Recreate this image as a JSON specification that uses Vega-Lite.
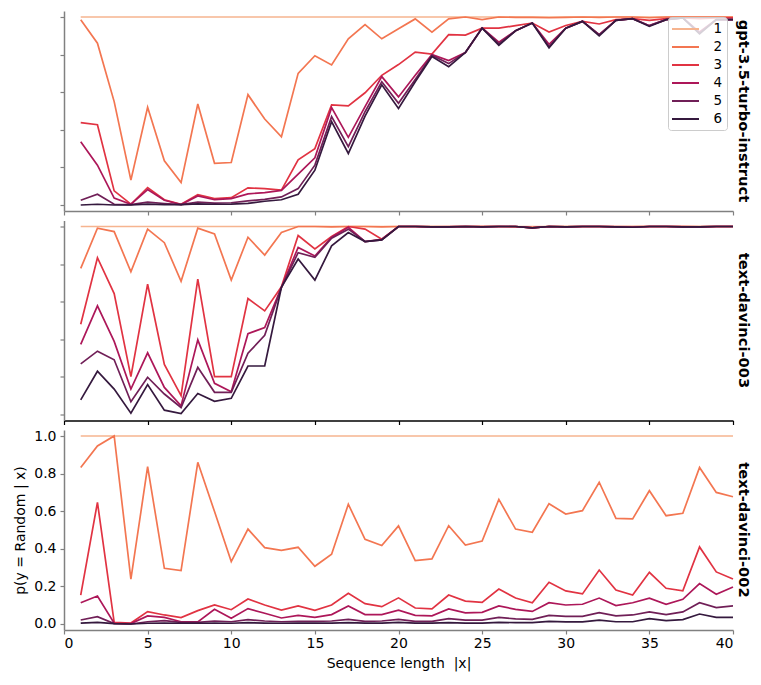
{
"$schema": "https://vega.github.io/schema/vega-lite/v6.json",
"padding": {"left": 13, "top": 11, "right": 5, "bottom": 5},
"config": {
  "font": "DejaVu Sans",
  "view": {"stroke": null},
  "axis": {"grid": false, "domainColor": "#808080", "domainWidth": 1.5, "tickColor": "#808080", "tickWidth": 1.2, "tickSize": 4, "labelFontSize": 14, "labelColor": "#000000", "titleFontSize": 14, "titleFontWeight": "normal", "titleColor": "#000000", "labelPadding": 4}
},
"datasets": {
"gpt": [
{"x":1,"s":"1","p":1},{"x":2,"s":"1","p":1},{"x":3,"s":"1","p":1},{"x":4,"s":"1","p":1},{"x":5,"s":"1","p":1},{"x":6,"s":"1","p":1},{"x":7,"s":"1","p":1},{"x":8,"s":"1","p":1},{"x":9,"s":"1","p":1},{"x":10,"s":"1","p":1},
{"x":11,"s":"1","p":1},{"x":12,"s":"1","p":1},{"x":13,"s":"1","p":1},{"x":14,"s":"1","p":1},{"x":15,"s":"1","p":1},{"x":16,"s":"1","p":1},{"x":17,"s":"1","p":1},{"x":18,"s":"1","p":1},{"x":19,"s":"1","p":1},{"x":20,"s":"1","p":1},
{"x":21,"s":"1","p":1},{"x":22,"s":"1","p":1},{"x":23,"s":"1","p":1},{"x":24,"s":"1","p":1},{"x":25,"s":"1","p":1},{"x":26,"s":"1","p":1},{"x":27,"s":"1","p":1},{"x":28,"s":"1","p":1},{"x":29,"s":"1","p":1},{"x":30,"s":"1","p":1},
{"x":31,"s":"1","p":1},{"x":32,"s":"1","p":1},{"x":33,"s":"1","p":1},{"x":34,"s":"1","p":1},{"x":35,"s":"1","p":1},{"x":36,"s":"1","p":1},{"x":37,"s":"1","p":1},{"x":38,"s":"1","p":1},{"x":39,"s":"1","p":1},{"x":40,"s":"1","p":1},
{"x":1,"s":"2","p":0.986},{"x":2,"s":"2","p":0.861},{"x":3,"s":"2","p":0.55},{"x":4,"s":"2","p":0.132},{"x":5,"s":"2","p":0.52},{"x":6,"s":"2","p":0.235},{"x":7,"s":"2","p":0.119},{"x":8,"s":"2","p":0.537},{"x":9,"s":"2","p":0.222},{"x":10,"s":"2","p":0.226},
{"x":11,"s":"2","p":0.587},{"x":12,"s":"2","p":0.457},{"x":13,"s":"2","p":0.363},{"x":14,"s":"2","p":0.70},{"x":15,"s":"2","p":0.794},{"x":16,"s":"2","p":0.745},{"x":17,"s":"2","p":0.884},{"x":18,"s":"2","p":0.959},{"x":19,"s":"2","p":0.884},{"x":20,"s":"2","p":0.938},
{"x":21,"s":"2","p":0.99},{"x":22,"s":"2","p":0.92},{"x":23,"s":"2","p":0.99},{"x":24,"s":"2","p":1.0},{"x":25,"s":"2","p":0.986},{"x":26,"s":"2","p":1.0},{"x":27,"s":"2","p":0.998},{"x":28,"s":"2","p":0.998},{"x":29,"s":"2","p":0.996},{"x":30,"s":"2","p":0.998},
{"x":31,"s":"2","p":1.0},{"x":32,"s":"2","p":0.998},{"x":33,"s":"2","p":1.0},{"x":34,"s":"2","p":1.0},{"x":35,"s":"2","p":0.996},{"x":36,"s":"2","p":1.0},{"x":37,"s":"2","p":1.0},{"x":38,"s":"2","p":1.0},{"x":39,"s":"2","p":1.0},{"x":40,"s":"2","p":1.0},
{"x":1,"s":"3","p":0.438},{"x":2,"s":"3","p":0.427},{"x":3,"s":"3","p":0.075},{"x":4,"s":"3","p":0.004},{"x":5,"s":"3","p":0.093},{"x":6,"s":"3","p":0.028},{"x":7,"s":"3","p":0.004},{"x":8,"s":"3","p":0.055},{"x":9,"s":"3","p":0.034},{"x":10,"s":"3","p":0.039},
{"x":11,"s":"3","p":0.091},{"x":12,"s":"3","p":0.087},{"x":13,"s":"3","p":0.079},{"x":14,"s":"3","p":0.24},{"x":15,"s":"3","p":0.30},{"x":16,"s":"3","p":0.533},{"x":17,"s":"3","p":0.527},{"x":18,"s":"3","p":0.597},{"x":19,"s":"3","p":0.69},{"x":20,"s":"3","p":0.747},
{"x":21,"s":"3","p":0.813},{"x":22,"s":"3","p":0.803},{"x":23,"s":"3","p":0.906},{"x":24,"s":"3","p":0.904},{"x":25,"s":"3","p":0.941},{"x":26,"s":"3","p":0.941},{"x":27,"s":"3","p":0.954},{"x":28,"s":"3","p":0.968},{"x":29,"s":"3","p":0.92},{"x":30,"s":"3","p":0.955},
{"x":31,"s":"3","p":0.977},{"x":32,"s":"3","p":0.963},{"x":33,"s":"3","p":0.986},{"x":34,"s":"3","p":0.991},{"x":35,"s":"3","p":0.982},{"x":36,"s":"3","p":0.991},{"x":37,"s":"3","p":0.995},{"x":38,"s":"3","p":0.991},{"x":39,"s":"3","p":0.995},{"x":40,"s":"3","p":0.995},
{"x":1,"s":"4","p":0.336},{"x":2,"s":"4","p":0.212},{"x":3,"s":"4","p":0.037},{"x":4,"s":"4","p":0.004},{"x":5,"s":"4","p":0.082},{"x":6,"s":"4","p":0.025},{"x":7,"s":"4","p":0.002},{"x":8,"s":"4","p":0.048},{"x":9,"s":"4","p":0.028},{"x":10,"s":"4","p":0.034},
{"x":11,"s":"4","p":0.059},{"x":12,"s":"4","p":0.066},{"x":13,"s":"4","p":0.078},{"x":14,"s":"4","p":0.164},{"x":15,"s":"4","p":0.251},{"x":16,"s":"4","p":0.518},{"x":17,"s":"4","p":0.36},{"x":18,"s":"4","p":0.523},{"x":19,"s":"4","p":0.683},{"x":20,"s":"4","p":0.575},
{"x":21,"s":"4","p":0.69},{"x":22,"s":"4","p":0.80},{"x":23,"s":"4","p":0.768},{"x":24,"s":"4","p":0.811},{"x":25,"s":"4","p":0.941},{"x":26,"s":"4","p":0.866},{"x":27,"s":"4","p":0.927},{"x":28,"s":"4","p":0.968},{"x":29,"s":"4","p":0.855},{"x":30,"s":"4","p":0.941},
{"x":31,"s":"4","p":0.977},{"x":32,"s":"4","p":0.906},{"x":33,"s":"4","p":0.982},{"x":34,"s":"4","p":0.991},{"x":35,"s":"4","p":0.954},{"x":36,"s":"4","p":0.986},{"x":37,"s":"4","p":0.995},{"x":38,"s":"4","p":0.92},{"x":39,"s":"4","p":0.986},{"x":40,"s":"4","p":0.986},
{"x":1,"s":"5","p":0.025},{"x":2,"s":"5","p":0.057},{"x":3,"s":"5","p":0.004},{"x":4,"s":"5","p":0.002},{"x":5,"s":"5","p":0.015},{"x":6,"s":"5","p":0.008},{"x":7,"s":"5","p":0.002},{"x":8,"s":"5","p":0.015},{"x":9,"s":"5","p":0.01},{"x":10,"s":"5","p":0.012},
{"x":11,"s":"5","p":0.022},{"x":12,"s":"5","p":0.03},{"x":13,"s":"5","p":0.043},{"x":14,"s":"5","p":0.087},{"x":15,"s":"5","p":0.212},{"x":16,"s":"5","p":0.47},{"x":17,"s":"5","p":0.31},{"x":18,"s":"5","p":0.496},{"x":19,"s":"5","p":0.656},{"x":20,"s":"5","p":0.541},
{"x":21,"s":"5","p":0.668},{"x":22,"s":"5","p":0.796},{"x":23,"s":"5","p":0.752},{"x":24,"s":"5","p":0.811},{"x":25,"s":"5","p":0.941},{"x":26,"s":"5","p":0.858},{"x":27,"s":"5","p":0.927},{"x":28,"s":"5","p":0.968},{"x":29,"s":"5","p":0.843},{"x":30,"s":"5","p":0.941},
{"x":31,"s":"5","p":0.977},{"x":32,"s":"5","p":0.906},{"x":33,"s":"5","p":0.982},{"x":34,"s":"5","p":0.991},{"x":35,"s":"5","p":0.954},{"x":36,"s":"5","p":0.986},{"x":37,"s":"5","p":0.995},{"x":38,"s":"5","p":0.915},{"x":39,"s":"5","p":0.986},{"x":40,"s":"5","p":0.986},
{"x":1,"s":"6","p":0.0},{"x":2,"s":"6","p":0.004},{"x":3,"s":"6","p":0.0},{"x":4,"s":"6","p":0.0},{"x":5,"s":"6","p":0.005},{"x":6,"s":"6","p":0.002},{"x":7,"s":"6","p":0.002},{"x":8,"s":"6","p":0.006},{"x":9,"s":"6","p":0.004},{"x":10,"s":"6","p":0.005},
{"x":11,"s":"6","p":0.009},{"x":12,"s":"6","p":0.02},{"x":13,"s":"6","p":0.028},{"x":14,"s":"6","p":0.057},{"x":15,"s":"6","p":0.185},{"x":16,"s":"6","p":0.443},{"x":17,"s":"6","p":0.274},{"x":18,"s":"6","p":0.473},{"x":19,"s":"6","p":0.639},{"x":20,"s":"6","p":0.514},
{"x":21,"s":"6","p":0.656},{"x":22,"s":"6","p":0.79},{"x":23,"s":"6","p":0.736},{"x":24,"s":"6","p":0.811},{"x":25,"s":"6","p":0.941},{"x":26,"s":"6","p":0.85},{"x":27,"s":"6","p":0.927},{"x":28,"s":"6","p":0.968},{"x":29,"s":"6","p":0.836},{"x":30,"s":"6","p":0.941},
{"x":31,"s":"6","p":0.977},{"x":32,"s":"6","p":0.9},{"x":33,"s":"6","p":0.982},{"x":34,"s":"6","p":0.991},{"x":35,"s":"6","p":0.95},{"x":36,"s":"6","p":0.986},{"x":37,"s":"6","p":0.995},{"x":38,"s":"6","p":0.91},{"x":39,"s":"6","p":0.986},{"x":40,"s":"6","p":0.986}
],
"d003": [
{"x":1,"s":"1","p":1},{"x":2,"s":"1","p":1},{"x":3,"s":"1","p":1},{"x":4,"s":"1","p":1},{"x":5,"s":"1","p":1},{"x":6,"s":"1","p":1},{"x":7,"s":"1","p":1},{"x":8,"s":"1","p":1},{"x":9,"s":"1","p":1},{"x":10,"s":"1","p":1},
{"x":11,"s":"1","p":1},{"x":12,"s":"1","p":1},{"x":13,"s":"1","p":1},{"x":14,"s":"1","p":1},{"x":15,"s":"1","p":1},{"x":16,"s":"1","p":1},{"x":17,"s":"1","p":1},{"x":18,"s":"1","p":1},{"x":19,"s":"1","p":1},{"x":20,"s":"1","p":1},
{"x":21,"s":"1","p":1},{"x":22,"s":"1","p":1},{"x":23,"s":"1","p":1},{"x":24,"s":"1","p":1},{"x":25,"s":"1","p":1},{"x":26,"s":"1","p":1},{"x":27,"s":"1","p":1},{"x":28,"s":"1","p":1},{"x":29,"s":"1","p":1},{"x":30,"s":"1","p":1},
{"x":31,"s":"1","p":1},{"x":32,"s":"1","p":1},{"x":33,"s":"1","p":1},{"x":34,"s":"1","p":1},{"x":35,"s":"1","p":1},{"x":36,"s":"1","p":1},{"x":37,"s":"1","p":1},{"x":38,"s":"1","p":1},{"x":39,"s":"1","p":1},{"x":40,"s":"1","p":1},
{"x":1,"s":"2","p":0.777},{"x":2,"s":"2","p":0.991},{"x":3,"s":"2","p":0.973},{"x":4,"s":"2","p":0.759},{"x":5,"s":"2","p":0.986},{"x":6,"s":"2","p":0.914},{"x":7,"s":"2","p":0.709},{"x":8,"s":"2","p":0.991},{"x":9,"s":"2","p":0.961},{"x":10,"s":"2","p":0.715},
{"x":11,"s":"2","p":0.943},{"x":12,"s":"2","p":0.848},{"x":13,"s":"2","p":0.968},{"x":14,"s":"2","p":1.0},{"x":15,"s":"2","p":1.0},{"x":16,"s":"2","p":0.998},{"x":17,"s":"2","p":1.0},{"x":18,"s":"2","p":1.0},{"x":19,"s":"2","p":0.998},{"x":20,"s":"2","p":1.0},
{"x":21,"s":"2","p":1.0},{"x":22,"s":"2","p":1.0},{"x":23,"s":"2","p":0.998},{"x":24,"s":"2","p":1.0},{"x":25,"s":"2","p":1.0},{"x":26,"s":"2","p":1.0},{"x":27,"s":"2","p":0.998},{"x":28,"s":"2","p":0.995},{"x":29,"s":"2","p":1.0},{"x":30,"s":"2","p":1.0},
{"x":31,"s":"2","p":1.0},{"x":32,"s":"2","p":1.0},{"x":33,"s":"2","p":0.998},{"x":34,"s":"2","p":1.0},{"x":35,"s":"2","p":1.0},{"x":36,"s":"2","p":1.0},{"x":37,"s":"2","p":1.0},{"x":38,"s":"2","p":1.0},{"x":39,"s":"2","p":1.0},{"x":40,"s":"2","p":1.0},
{"x":1,"s":"3","p":0.48},{"x":2,"s":"3","p":0.834},{"x":3,"s":"3","p":0.643},{"x":4,"s":"3","p":0.201},{"x":5,"s":"3","p":0.693},{"x":6,"s":"3","p":0.266},{"x":7,"s":"3","p":0.10},{"x":8,"s":"3","p":0.72},{"x":9,"s":"3","p":0.201},{"x":10,"s":"3","p":0.201},
{"x":11,"s":"3","p":0.617},{"x":12,"s":"3","p":0.551},{"x":13,"s":"3","p":0.679},{"x":14,"s":"3","p":0.952},{"x":15,"s":"3","p":0.881},{"x":16,"s":"3","p":0.947},{"x":17,"s":"3","p":1.0},{"x":18,"s":"3","p":0.986},{"x":19,"s":"3","p":0.932},{"x":20,"s":"3","p":1.0},
{"x":21,"s":"3","p":1.0},{"x":22,"s":"3","p":0.998},{"x":23,"s":"3","p":1.0},{"x":24,"s":"3","p":1.0},{"x":25,"s":"3","p":1.0},{"x":26,"s":"3","p":1.0},{"x":27,"s":"3","p":1.0},{"x":28,"s":"3","p":0.993},{"x":29,"s":"3","p":1.0},{"x":30,"s":"3","p":0.998},
{"x":31,"s":"3","p":1.0},{"x":32,"s":"3","p":1.0},{"x":33,"s":"3","p":1.0},{"x":34,"s":"3","p":0.998},{"x":35,"s":"3","p":1.0},{"x":36,"s":"3","p":1.0},{"x":37,"s":"3","p":1.0},{"x":38,"s":"3","p":0.998},{"x":39,"s":"3","p":1.0},{"x":40,"s":"3","p":1.0},
{"x":1,"s":"4","p":0.373},{"x":2,"s":"4","p":0.578},{"x":3,"s":"4","p":0.389},{"x":4,"s":"4","p":0.135},{"x":5,"s":"4","p":0.328},{"x":6,"s":"4","p":0.144},{"x":7,"s":"4","p":0.046},{"x":8,"s":"4","p":0.397},{"x":9,"s":"4","p":0.166},{"x":10,"s":"4","p":0.121},
{"x":11,"s":"4","p":0.43},{"x":12,"s":"4","p":0.462},{"x":13,"s":"4","p":0.676},{"x":14,"s":"4","p":0.889},{"x":15,"s":"4","p":0.843},{"x":16,"s":"4","p":0.943},{"x":17,"s":"4","p":0.996},{"x":18,"s":"4","p":0.92},{"x":19,"s":"4","p":0.932},{"x":20,"s":"4","p":1.0},
{"x":21,"s":"4","p":1.0},{"x":22,"s":"4","p":0.998},{"x":23,"s":"4","p":0.998},{"x":24,"s":"4","p":1.0},{"x":25,"s":"4","p":0.998},{"x":26,"s":"4","p":1.0},{"x":27,"s":"4","p":1.0},{"x":28,"s":"4","p":0.993},{"x":29,"s":"4","p":1.0},{"x":30,"s":"4","p":0.998},
{"x":31,"s":"4","p":1.0},{"x":32,"s":"4","p":1.0},{"x":33,"s":"4","p":0.998},{"x":34,"s":"4","p":0.996},{"x":35,"s":"4","p":1.0},{"x":36,"s":"4","p":1.0},{"x":37,"s":"4","p":0.998},{"x":38,"s":"4","p":0.998},{"x":39,"s":"4","p":1.0},{"x":40,"s":"4","p":1.0},
{"x":1,"s":"5","p":0.269},{"x":2,"s":"5","p":0.337},{"x":3,"s":"5","p":0.291},{"x":4,"s":"5","p":0.068},{"x":5,"s":"5","p":0.198},{"x":6,"s":"5","p":0.109},{"x":7,"s":"5","p":0.037},{"x":8,"s":"5","p":0.251},{"x":9,"s":"5","p":0.118},{"x":10,"s":"5","p":0.118},
{"x":11,"s":"5","p":0.326},{"x":12,"s":"5","p":0.421},{"x":13,"s":"5","p":0.676},{"x":14,"s":"5","p":0.861},{"x":15,"s":"5","p":0.836},{"x":16,"s":"5","p":0.938},{"x":17,"s":"5","p":0.986},{"x":18,"s":"5","p":0.92},{"x":19,"s":"5","p":0.929},{"x":20,"s":"5","p":1.0},
{"x":21,"s":"5","p":1.0},{"x":22,"s":"5","p":0.998},{"x":23,"s":"5","p":0.998},{"x":24,"s":"5","p":1.0},{"x":25,"s":"5","p":0.998},{"x":26,"s":"5","p":1.0},{"x":27,"s":"5","p":1.0},{"x":28,"s":"5","p":0.993},{"x":29,"s":"5","p":1.0},{"x":30,"s":"5","p":0.998},
{"x":31,"s":"5","p":1.0},{"x":32,"s":"5","p":1.0},{"x":33,"s":"5","p":0.998},{"x":34,"s":"5","p":0.996},{"x":35,"s":"5","p":1.0},{"x":36,"s":"5","p":1.0},{"x":37,"s":"5","p":0.998},{"x":38,"s":"5","p":0.998},{"x":39,"s":"5","p":1.0},{"x":40,"s":"5","p":1.0},
{"x":1,"s":"6","p":0.078},{"x":2,"s":"6","p":0.23},{"x":3,"s":"6","p":0.135},{"x":4,"s":"6","p":0.007},{"x":5,"s":"6","p":0.159},{"x":6,"s":"6","p":0.023},{"x":7,"s":"6","p":0.005},{"x":8,"s":"6","p":0.112},{"x":9,"s":"6","p":0.07},{"x":10,"s":"6","p":0.086},
{"x":11,"s":"6","p":0.258},{"x":12,"s":"6","p":0.258},{"x":13,"s":"6","p":0.676},{"x":14,"s":"6","p":0.827},{"x":15,"s":"6","p":0.715},{"x":16,"s":"6","p":0.897},{"x":17,"s":"6","p":0.968},{"x":18,"s":"6","p":0.92},{"x":19,"s":"6","p":0.929},{"x":20,"s":"6","p":1.0},
{"x":21,"s":"6","p":1.0},{"x":22,"s":"6","p":0.998},{"x":23,"s":"6","p":0.998},{"x":24,"s":"6","p":1.0},{"x":25,"s":"6","p":0.998},{"x":26,"s":"6","p":1.0},{"x":27,"s":"6","p":1.0},{"x":28,"s":"6","p":0.993},{"x":29,"s":"6","p":1.0},{"x":30,"s":"6","p":0.998},
{"x":31,"s":"6","p":1.0},{"x":32,"s":"6","p":1.0},{"x":33,"s":"6","p":0.998},{"x":34,"s":"6","p":0.996},{"x":35,"s":"6","p":1.0},{"x":36,"s":"6","p":1.0},{"x":37,"s":"6","p":0.998},{"x":38,"s":"6","p":0.998},{"x":39,"s":"6","p":1.0},{"x":40,"s":"6","p":1.0}
],
"d002": [
{"x":1,"s":"1","p":1},{"x":2,"s":"1","p":1},{"x":3,"s":"1","p":1},{"x":4,"s":"1","p":1},{"x":5,"s":"1","p":1},{"x":6,"s":"1","p":1},{"x":7,"s":"1","p":1},{"x":8,"s":"1","p":1},{"x":9,"s":"1","p":1},{"x":10,"s":"1","p":1},
{"x":11,"s":"1","p":1},{"x":12,"s":"1","p":1},{"x":13,"s":"1","p":1},{"x":14,"s":"1","p":1},{"x":15,"s":"1","p":1},{"x":16,"s":"1","p":1},{"x":17,"s":"1","p":1},{"x":18,"s":"1","p":1},{"x":19,"s":"1","p":1},{"x":20,"s":"1","p":1},
{"x":21,"s":"1","p":1},{"x":22,"s":"1","p":1},{"x":23,"s":"1","p":1},{"x":24,"s":"1","p":1},{"x":25,"s":"1","p":1},{"x":26,"s":"1","p":1},{"x":27,"s":"1","p":1},{"x":28,"s":"1","p":1},{"x":29,"s":"1","p":1},{"x":30,"s":"1","p":1},
{"x":31,"s":"1","p":1},{"x":32,"s":"1","p":1},{"x":33,"s":"1","p":1},{"x":34,"s":"1","p":1},{"x":35,"s":"1","p":1},{"x":36,"s":"1","p":1},{"x":37,"s":"1","p":1},{"x":38,"s":"1","p":1},{"x":39,"s":"1","p":1},{"x":40,"s":"1","p":1},
{"x":1,"s":"2","p":0.832},{"x":2,"s":"2","p":0.947},{"x":3,"s":"2","p":1.0},{"x":4,"s":"2","p":0.238},{"x":5,"s":"2","p":0.837},{"x":6,"s":"2","p":0.296},{"x":7,"s":"2","p":0.284},{"x":8,"s":"2","p":0.86},{"x":9,"s":"2","p":0.598},{"x":10,"s":"2","p":0.332},
{"x":11,"s":"2","p":0.505},{"x":12,"s":"2","p":0.406},{"x":13,"s":"2","p":0.392},{"x":14,"s":"2","p":0.408},{"x":15,"s":"2","p":0.307},{"x":16,"s":"2","p":0.371},{"x":17,"s":"2","p":0.637},{"x":18,"s":"2","p":0.45},{"x":19,"s":"2","p":0.417},{"x":20,"s":"2","p":0.522},
{"x":21,"s":"2","p":0.337},{"x":22,"s":"2","p":0.346},{"x":23,"s":"2","p":0.523},{"x":24,"s":"2","p":0.42},{"x":25,"s":"2","p":0.441},{"x":26,"s":"2","p":0.663},{"x":27,"s":"2","p":0.505},{"x":28,"s":"2","p":0.488},{"x":29,"s":"2","p":0.64},{"x":30,"s":"2","p":0.585},
{"x":31,"s":"2","p":0.603},{"x":32,"s":"2","p":0.754},{"x":33,"s":"2","p":0.562},{"x":34,"s":"2","p":0.559},{"x":35,"s":"2","p":0.709},{"x":36,"s":"2","p":0.576},{"x":37,"s":"2","p":0.589},{"x":38,"s":"2","p":0.833},{"x":39,"s":"2","p":0.70},{"x":40,"s":"2","p":0.677},
{"x":1,"s":"3","p":0.154},{"x":2,"s":"3","p":0.647},{"x":3,"s":"3","p":0.009},{"x":4,"s":"3","p":0.005},{"x":5,"s":"3","p":0.066},{"x":6,"s":"3","p":0.048},{"x":7,"s":"3","p":0.034},{"x":8,"s":"3","p":0.071},{"x":9,"s":"3","p":0.101},{"x":10,"s":"3","p":0.076},
{"x":11,"s":"3","p":0.133},{"x":12,"s":"3","p":0.101},{"x":13,"s":"3","p":0.074},{"x":14,"s":"3","p":0.096},{"x":15,"s":"3","p":0.073},{"x":16,"s":"3","p":0.101},{"x":17,"s":"3","p":0.163},{"x":18,"s":"3","p":0.108},{"x":19,"s":"3","p":0.092},{"x":20,"s":"3","p":0.139},
{"x":21,"s":"3","p":0.085},{"x":22,"s":"3","p":0.08},{"x":23,"s":"3","p":0.154},{"x":24,"s":"3","p":0.122},{"x":25,"s":"3","p":0.115},{"x":26,"s":"3","p":0.186},{"x":27,"s":"3","p":0.138},{"x":28,"s":"3","p":0.113},{"x":29,"s":"3","p":0.222},{"x":30,"s":"3","p":0.176},
{"x":31,"s":"3","p":0.16},{"x":32,"s":"3","p":0.287},{"x":33,"s":"3","p":0.181},{"x":34,"s":"3","p":0.154},{"x":35,"s":"3","p":0.275},{"x":36,"s":"3","p":0.19},{"x":37,"s":"3","p":0.176},{"x":38,"s":"3","p":0.41},{"x":39,"s":"3","p":0.277},{"x":40,"s":"3","p":0.239},
{"x":1,"s":"4","p":0.113},{"x":2,"s":"4","p":0.149},{"x":3,"s":"4","p":0.004},{"x":4,"s":"4","p":0.002},{"x":5,"s":"4","p":0.043},{"x":6,"s":"4","p":0.035},{"x":7,"s":"4","p":0.012},{"x":8,"s":"4","p":0.011},{"x":9,"s":"4","p":0.078},{"x":10,"s":"4","p":0.03},
{"x":11,"s":"4","p":0.082},{"x":12,"s":"4","p":0.057},{"x":13,"s":"4","p":0.032},{"x":14,"s":"4","p":0.046},{"x":15,"s":"4","p":0.035},{"x":16,"s":"4","p":0.05},{"x":17,"s":"4","p":0.096},{"x":18,"s":"4","p":0.05},{"x":19,"s":"4","p":0.05},{"x":20,"s":"4","p":0.074},
{"x":21,"s":"4","p":0.046},{"x":22,"s":"4","p":0.043},{"x":23,"s":"4","p":0.08},{"x":24,"s":"4","p":0.059},{"x":25,"s":"4","p":0.062},{"x":26,"s":"4","p":0.096},{"x":27,"s":"4","p":0.078},{"x":28,"s":"4","p":0.067},{"x":29,"s":"4","p":0.113},{"x":30,"s":"4","p":0.101},
{"x":31,"s":"4","p":0.105},{"x":32,"s":"4","p":0.138},{"x":33,"s":"4","p":0.098},{"x":34,"s":"4","p":0.113},{"x":35,"s":"4","p":0.137},{"x":36,"s":"4","p":0.105},{"x":37,"s":"4","p":0.131},{"x":38,"s":"4","p":0.215},{"x":39,"s":"4","p":0.158},{"x":40,"s":"4","p":0.197},
{"x":1,"s":"5","p":0.021},{"x":2,"s":"5","p":0.039},{"x":3,"s":"5","p":0.002},{"x":4,"s":"5","p":0.0},{"x":5,"s":"5","p":0.012},{"x":6,"s":"5","p":0.018},{"x":7,"s":"5","p":0.009},{"x":8,"s":"5","p":0.009},{"x":9,"s":"5","p":0.016},{"x":10,"s":"5","p":0.012},
{"x":11,"s":"5","p":0.023},{"x":12,"s":"5","p":0.016},{"x":13,"s":"5","p":0.012},{"x":14,"s":"5","p":0.014},{"x":15,"s":"5","p":0.014},{"x":16,"s":"5","p":0.016},{"x":17,"s":"5","p":0.025},{"x":18,"s":"5","p":0.014},{"x":19,"s":"5","p":0.016},{"x":20,"s":"5","p":0.025},
{"x":21,"s":"5","p":0.014},{"x":22,"s":"5","p":0.014},{"x":23,"s":"5","p":0.028},{"x":24,"s":"5","p":0.021},{"x":25,"s":"5","p":0.021},{"x":26,"s":"5","p":0.035},{"x":27,"s":"5","p":0.027},{"x":28,"s":"5","p":0.025},{"x":29,"s":"5","p":0.046},{"x":30,"s":"5","p":0.041},
{"x":31,"s":"5","p":0.041},{"x":32,"s":"5","p":0.06},{"x":33,"s":"5","p":0.043},{"x":34,"s":"5","p":0.048},{"x":35,"s":"5","p":0.064},{"x":36,"s":"5","p":0.05},{"x":37,"s":"5","p":0.064},{"x":38,"s":"5","p":0.113},{"x":39,"s":"5","p":0.087},{"x":40,"s":"5","p":0.096},
{"x":1,"s":"6","p":0.005},{"x":2,"s":"6","p":0.009},{"x":3,"s":"6","p":0.002},{"x":4,"s":"6","p":0.0},{"x":5,"s":"6","p":0.004},{"x":6,"s":"6","p":0.005},{"x":7,"s":"6","p":0.004},{"x":8,"s":"6","p":0.004},{"x":9,"s":"6","p":0.005},{"x":10,"s":"6","p":0.004},
{"x":11,"s":"6","p":0.007},{"x":12,"s":"6","p":0.005},{"x":13,"s":"6","p":0.004},{"x":14,"s":"6","p":0.005},{"x":15,"s":"6","p":0.005},{"x":16,"s":"6","p":0.005},{"x":17,"s":"6","p":0.007},{"x":18,"s":"6","p":0.005},{"x":19,"s":"6","p":0.005},{"x":20,"s":"6","p":0.009},
{"x":21,"s":"6","p":0.005},{"x":22,"s":"6","p":0.005},{"x":23,"s":"6","p":0.007},{"x":24,"s":"6","p":0.005},{"x":25,"s":"6","p":0.005},{"x":26,"s":"6","p":0.009},{"x":27,"s":"6","p":0.007},{"x":28,"s":"6","p":0.007},{"x":29,"s":"6","p":0.014},{"x":30,"s":"6","p":0.011},
{"x":31,"s":"6","p":0.011},{"x":32,"s":"6","p":0.021},{"x":33,"s":"6","p":0.012},{"x":34,"s":"6","p":0.012},{"x":35,"s":"6","p":0.028},{"x":36,"s":"6","p":0.018},{"x":37,"s":"6","p":0.023},{"x":38,"s":"6","p":0.053},{"x":39,"s":"6","p":0.035},{"x":40,"s":"6","p":0.035}
]
},
"spacing": 9.5,
"bounds": "flush",
"resolve": {"scale": {"color": "independent"}, "legend": {"color": "independent"}},
"vconcat": [
{
  "data": {"name": "gpt"},
  "width": 669, "height": 200,
  "title": {"text": "gpt-3.5-turbo-instruct", "orient": "right", "anchor": "middle", "frame": "group", "fontSize": 14.7, "fontWeight": "bold", "offset": 0, "color": "#000000"},
  "mark": {"type": "line", "strokeWidth": 1.7},
  "encoding": {
    "x": {"field": "x", "type": "quantitative", "scale": {"domain": [0, 40], "nice": false}, "axis": {"values": [0,5,10,15,20,25,30,35,40], "labels": false, "title": null}},
    "y": {"field": "p", "type": "quantitative", "scale": {"domain": [-0.032, 1.032], "nice": false, "zero": false}, "axis": {"values": [0,0.2,0.4,0.6,0.8,1], "labels": false, "title": null}},
    "color": {"field": "s", "type": "nominal", "scale": {"domain": ["1","2","3","4","5","6"], "range": ["#f6b48f","#f37651","#e13342","#ad1759","#701f57","#35193e"]},
      "legend": {"title": null, "orient": "top-right", "offset": 6, "symbolType": "M-2,0H2", "symbolStrokeWidth": 2, "symbolSize": 182, "symbolOffset": 5.5, "labelFontSize": 13.5, "labelOffset": 20, "padding": 4, "fillColor": "rgba(255,255,255,0.8)", "strokeColor": "#cccccc", "cornerRadius": 3, "rowPadding": 3, "labelColor": "#000000"}}
  }
},
{
  "data": {"name": "d003"},
  "width": 669, "height": 200,
  "title": {"text": "text-davinci-003", "orient": "right", "anchor": "middle", "frame": "group", "fontSize": 14.7, "fontWeight": "bold", "offset": 0, "color": "#000000"},
  "mark": {"type": "line", "strokeWidth": 1.7},
  "encoding": {
    "x": {"field": "x", "type": "quantitative", "scale": {"domain": [0, 40], "nice": false}, "axis": {"values": [0,5,10,15,20,25,30,35,40], "labels": false, "title": null, "domainColor": "#000000", "tickColor": "#000000"}},
    "y": {"field": "p", "type": "quantitative", "scale": {"domain": [-0.032, 1.032], "nice": false, "zero": false}, "axis": {"values": [0,0.2,0.4,0.6,0.8,1], "labels": false, "title": null}},
    "color": {"field": "s", "type": "nominal", "scale": {"domain": ["1","2","3","4","5","6"], "range": ["#f6b48f","#f37651","#e13342","#ad1759","#701f57","#35193e"]}, "legend": null}
  }
},
{
  "data": {"name": "d002"},
  "width": 669, "height": 200,
  "title": {"text": "text-davinci-002", "orient": "right", "anchor": "middle", "frame": "group", "fontSize": 14.7, "fontWeight": "bold", "offset": 0, "color": "#000000"},
  "mark": {"type": "line", "strokeWidth": 1.7},
  "encoding": {
    "x": {"field": "x", "type": "quantitative", "scale": {"domain": [0, 40], "nice": false}, "axis": {"values": [0,5,10,15,20,25,30,35,40], "title": "Sequence length\u00a0 |x|", "labelPadding": 2, "titlePadding": 6}},
    "y": {"field": "p", "type": "quantitative", "scale": {"domain": [-0.032, 1.032], "nice": false, "zero": false}, "axis": {"values": [0,0.2,0.4,0.6,0.8,1], "format": ".1f", "title": "p(y = Random | x)", "titlePadding": 6}},
    "color": {"field": "s", "type": "nominal", "scale": {"domain": ["1","2","3","4","5","6"], "range": ["#f6b48f","#f37651","#e13342","#ad1759","#701f57","#35193e"]}, "legend": null}
  }
}
]
}
